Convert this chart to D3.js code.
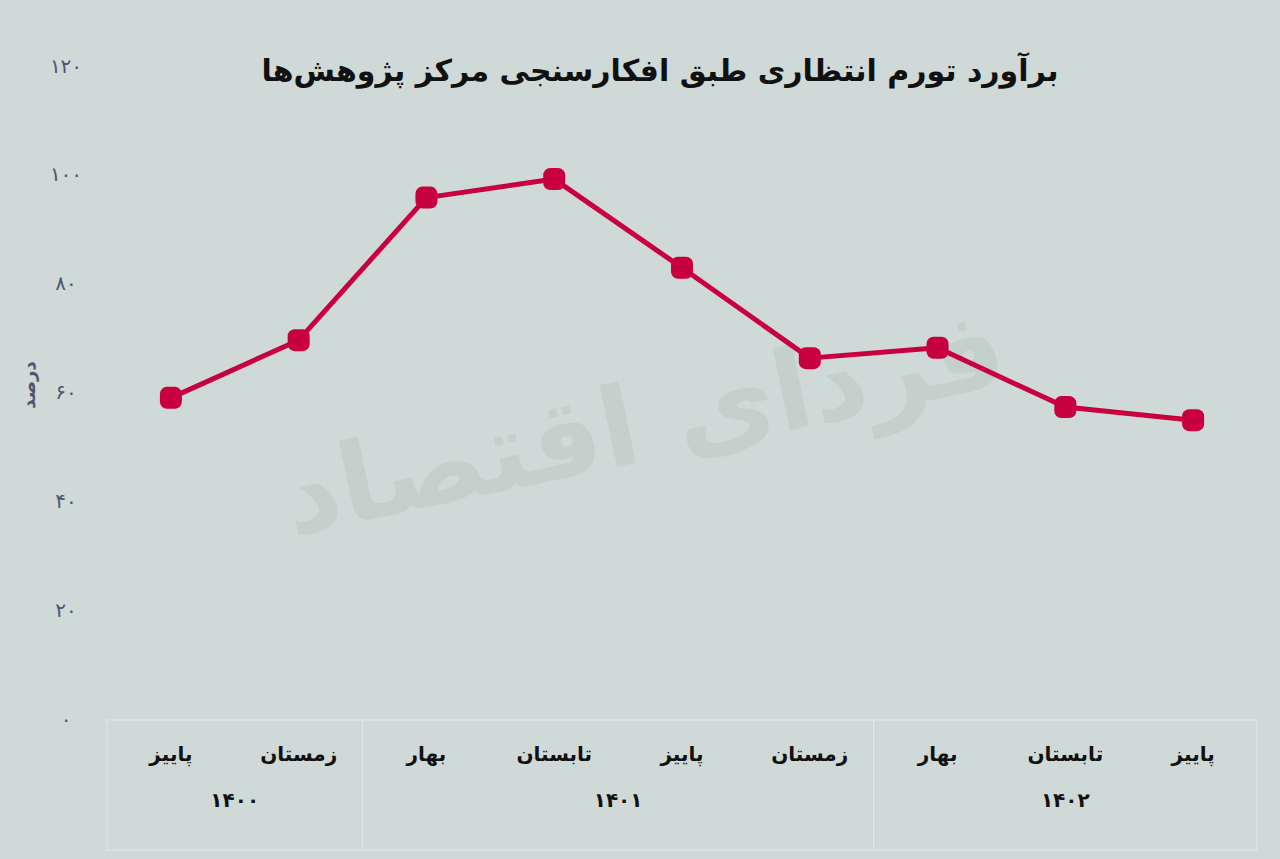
<!DOCTYPE html>
<html><head><meta charset="utf-8">
<script src="https://cdn.jsdelivr.net/npm/d3@7"></script>
<style>
body{margin:0;background:#cfd9d8;}
text{font-family:"DejaVu Sans","Noto Sans",sans-serif;}
</style></head>
<body>
<script>
const seasons = ["پاییز","زمستان","بهار","تابستان","پاییز","زمستان","بهار","تابستان","پاییز"];
const years = [{label:"۱۴۰۰",from:0,to:2},{label:"۱۴۰۱",from:2,to:6},{label:"۱۴۰۲",from:6,to:9}];
const values = [59.2,69.8,96,99.4,83.1,66.5,68.4,57.5,55.1];
const yTicks = [0,20,40,60,80,100,120];

const width = 1280, height = 859;
const fa = n => String(n).replace(/\d/g, d => "۰۱۲۳۴۵۶۷۸۹"[d]);

const svg = d3.select("body").append("svg").attr("width", width).attr("height", height);

// watermark
svg.append("text").attr("transform","translate(645,430) rotate(-12)")
    .attr("text-anchor","middle").attr("dominant-baseline","middle")
    .style("font-size","110px").style("font-weight","bold").style("fill","#c3d0cb")
    .text("فردای اقتصاد");

const x = d3.scaleBand().domain(d3.range(9)).range([107,1257]);
const y = d3.scaleLinear().domain([0,120]).range([720,67]);

// y tick labels
svg.selectAll(".yt").data(yTicks).enter().append("text")
    .attr("x",66).attr("y",d=>y(d)).attr("text-anchor","middle").attr("dominant-baseline","middle")
    .style("font-size","20px").style("fill","#4a5670").text(d=>fa(d));

svg.append("text").attr("transform","translate(30,385) rotate(-90)")
    .attr("text-anchor","middle").attr("dominant-baseline","middle")
    .style("font-size","18px").style("font-weight","bold").style("fill","#4a5670").text("درصد");

// title
svg.append("text").attr("x",660).attr("y",72).attr("text-anchor","middle").attr("dominant-baseline","middle")
    .style("font-size","30px").style("font-weight","bold").style("fill","#111")
    .text("برآورد تورم انتظاری طبق افکارسنجی مرکز پژوهش‌ها");

// category box
const grid = "#e2e9e8";
svg.append("rect").attr("x",107).attr("y",720).attr("width",1150).attr("height",130)
    .style("fill","none").style("stroke",grid).style("stroke-width",1);
years.slice(1).forEach(g=>{
    svg.append("line").attr("x1",x(g.from)).attr("x2",x(g.from)).attr("y1",720).attr("y2",850)
        .style("stroke",grid);
});
svg.selectAll(".st").data(seasons).enter().append("text")
    .attr("x",(d,i)=>x(i)+x.bandwidth()/2).attr("y",755).attr("text-anchor","middle").attr("dominant-baseline","middle")
    .style("font-size","20px").style("font-weight","bold").style("fill","#111").text(d=>d);
svg.selectAll(".yr").data(years).enter().append("text")
    .attr("x",d=>(x(d.from)+x(d.to-1)+x.bandwidth())/2).attr("y",801).attr("text-anchor","middle").attr("dominant-baseline","middle")
    .style("font-size","20px").style("font-weight","bold").style("fill","#111").text(d=>d.label);

// line
const red = "#c8003f";
const line = d3.line().x((d,i)=>x(i)+x.bandwidth()/2).y(d=>y(d));
svg.append("path").datum(values).attr("d",line)
    .style("fill","none").style("stroke",red).style("stroke-width",5).style("stroke-linejoin","round");
svg.selectAll(".pt").data(values).enter().append("rect")
    .attr("x",(d,i)=>x(i)+x.bandwidth()/2-11).attr("y",d=>y(d)-11)
    .attr("width",22).attr("height",22).attr("rx",7)
    .style("fill",red);
</script>
</body></html>
